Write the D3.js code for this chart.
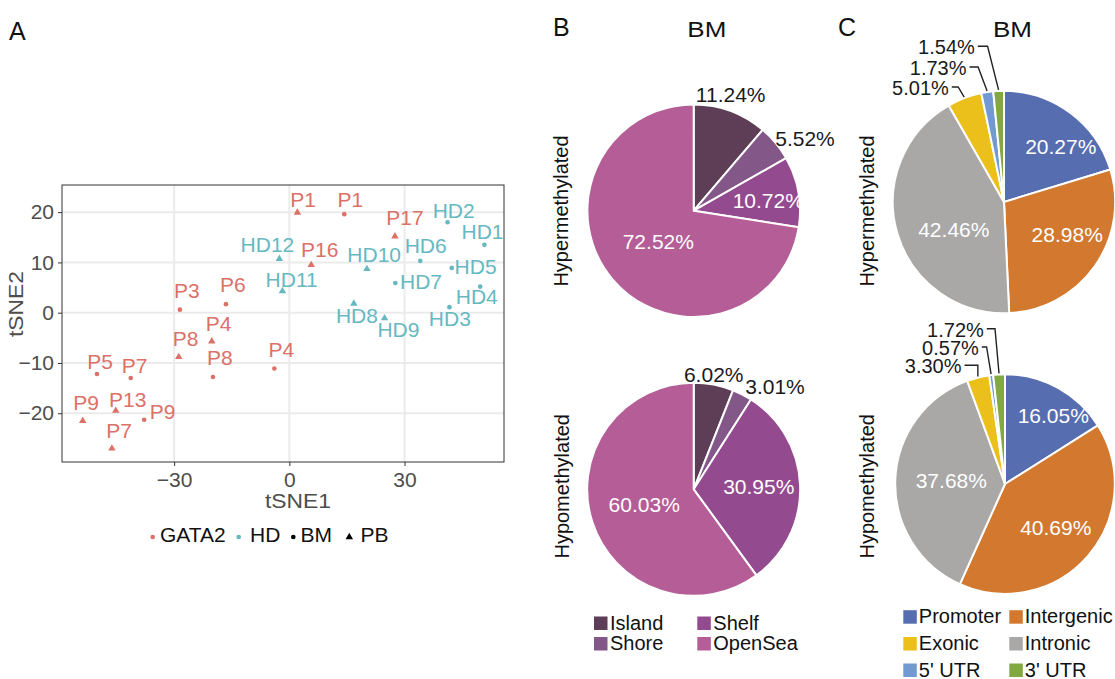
<!DOCTYPE html>
<html>
<head>
<meta charset="utf-8">
<script src="https://cdn.jsdelivr.net/npm/d3@7"></script>
<style>
body { margin: 0; background: #fff; }
text { font-family: "Liberation Sans", Arial, sans-serif; }
</style>
</head>
<body>
<div id="chart"></div>
<script>
// ---- panel A data (tSNE) ----
var sampleNames = ["P1","P1","P17","HD2","HD1","HD6","HD5","HD7","HD4","HD3","HD9","HD8","HD10","P16",
    "HD12","HD11","P4","P3","P6","P4","P8","P8","P5","P7","P9","P13","P9","P7"];
var tsne1 = [2.1,14.3,27.5,41.2,50.8,34.1,42.3,27.6,49.7,41.7,24.8,16.8,20.2,5.7,
    -2.6,-1.8,-3.9,-28.5,-16.5,-20.2,-28.8,-19.9,-50.1,-41.3,-53.8,-45.2,-37.8,-46.2];
var tsne2 = [19.9,19.6,15.2,18.0,13.5,10.3,8.9,5.9,5.2,1.1,-1.1,1.8,8.7,9.5,
    10.7,4.3,-11.1,0.6,1.7,-5.7,-8.8,-12.8,-12.2,-13.0,-21.5,-19.5,-21.3,-27.0];
var groups = ["GATA2","GATA2","GATA2","HD","HD","HD","HD","HD","HD","HD","HD","HD","HD","GATA2",
    "HD","HD","GATA2","GATA2","GATA2","GATA2","GATA2","GATA2","GATA2","GATA2","GATA2","GATA2","GATA2","GATA2"];
var tissues = ["PB","BM","PB","BM","BM","BM","BM","BM","BM","BM","PB","PB","PB","PB",
    "PB","PB","BM","BM","BM","PB","PB","BM","BM","BM","PB","PB","BM","PB"];
// repelled label positions (data units, baseline)
var labelX = [3.6,15.9,30.1,42.8,50.3,35.5,48.5,34.3,48.8,41.8,28.4,17.6,22.1,7.9,
    -5.7,0.6,-2.1,-26.7,-14.7,-18.4,-27.0,-18.1,-49.3,-40.3,-52.9,-42.1,-33.0,-44.3];
var labelY = [21.1,21.1,17.4,18.8,14.7,11.9,7.6,4.7,1.7,-2.6,-4.8,-2.0,10.1,11.1,
    12.1,5.2,-8.9,2.9,4.2,-3.6,-6.6,-10.5,-11.2,-11.9,-19.3,-18.7,-21.1,-25.0];
var xTicks = [-30, 0, 30];
var yTicks = [-20, -10, 0, 10, 20];

// ---- panel B data (CpG context, %) ----
var cpgRegions = ["Island", "Shore", "Shelf", "OpenSea"];
var cpgHyper = [11.24, 5.52, 10.72, 72.52];
var cpgHypo = [6.02, 3.01, 30.95, 60.03];

// ---- panel C data (gene region, %) ----
var geneRegions = ["Promoter", "Intergenic", "Intronic", "Exonic", "5' UTR", "3' UTR"];
var geneHyper = [20.27, 28.98, 42.46, 5.01, 1.73, 1.54];
var geneHypo = [16.05, 40.69, 37.68, 3.30, 0.57, 1.72];

var W = 1115, H = 679;
var svg = d3.select("#chart").append("svg").attr("width", W).attr("height", H);

var groupColor = d3.scaleOrdinal().domain(["GATA2", "HD"]).range(["#dc7168", "#66b8c1"]);
var shape = d3.scaleOrdinal().domain(["BM", "PB"]).range([d3.symbolCircle, d3.symbolTriangle]);
var symSize = { BM: 17, PB: 24 };

// panel letters
[["A", 9, 40], ["B", 553, 36], ["C", 838, 36]].forEach(function(p) {
    svg.append("text").attr("x", p[1]).attr("y", p[2]).attr("font-size", 25).attr("fill", "#111").text(p[0]);
});

// ================= panel A =================
var x = d3.scaleLinear().domain([-59.2, 55.9]).range([62, 504]);
var y = d3.scaleLinear().domain([-29.7, 25.4]).range([462, 185]);

var gA = svg.append("g");
gA.selectAll(".gx").data(xTicks).enter().append("line")
    .attr("x1", x).attr("x2", x).attr("y1", y.range()[1]).attr("y2", y.range()[0])
    .attr("stroke", "#ebebeb").attr("stroke-width", 2);
gA.selectAll(".gy").data(yTicks).enter().append("line")
    .attr("y1", y).attr("y2", y).attr("x1", x.range()[0]).attr("x2", x.range()[1])
    .attr("stroke", "#ebebeb").attr("stroke-width", 2);
gA.append("rect").attr("x", 62).attr("y", 185).attr("width", 442).attr("height", 277)
    .attr("fill", "none").attr("stroke", "#333").attr("stroke-width", 1);

var xAxis = gA.append("g").attr("transform", "translate(0,462)")
    .call(d3.axisBottom(x).tickValues(xTicks).tickSize(4).tickPadding(3).tickFormat(d3.format("")));
var yAxis = gA.append("g").attr("transform", "translate(62,0)")
    .call(d3.axisLeft(y).tickValues(yTicks).tickSize(4).tickPadding(4).tickFormat(d3.format("")));
[xAxis, yAxis].forEach(function(a) {
    a.select(".domain").remove();
    a.selectAll(".tick line").attr("stroke", "#333");
    a.selectAll(".tick text").attr("fill", "#4d4d4d").attr("font-size", 21)
        .style("font-family", "'Liberation Sans', Arial, sans-serif");
});
xAxis.selectAll(".tick text").attr("dy", "0.85em");

gA.append("text").attr("x", 298).attr("y", 508).attr("text-anchor", "middle")
    .attr("font-size", 21).attr("textLength", 66).attr("lengthAdjust", "spacingAndGlyphs")
    .attr("fill", "#4d4d4d").text("tSNE1");
gA.append("text").attr("transform", "translate(23,304) rotate(-90)").attr("text-anchor", "middle")
    .attr("font-size", 21).attr("textLength", 66).attr("lengthAdjust", "spacingAndGlyphs")
    .attr("fill", "#4d4d4d").text("tSNE2");

var pts = sampleNames.map(function(n, i) {
    return { name: n, x: tsne1[i], y: tsne2[i], g: groups[i], t: tissues[i], lx: labelX[i], ly: labelY[i] };
});
gA.selectAll(".pt").data(pts).enter().append("path")
    .attr("transform", function(d) { return "translate(" + x(d.x) + "," + y(d.y) + ")"; })
    .attr("d", function(d) { return d3.symbol().type(shape(d.t)).size(symSize[d.t])(); })
    .attr("fill", function(d) { return groupColor(d.g); });
gA.selectAll(".lab").data(pts).enter().append("text")
    .attr("x", function(d) { return x(d.lx); }).attr("y", function(d) { return y(d.ly); })
    .attr("text-anchor", "middle").attr("font-size", 21)
    .attr("fill", function(d) { return groupColor(d.g); }).text(function(d) { return d.name; });

// legend A
var legA = svg.append("g");
var legItems = [
    { sym: d3.symbolCircle, size: 17, col: groupColor("GATA2"), label: "GATA2", sx: 152.7, tx: 160 },
    { sym: d3.symbolCircle, size: 17, col: groupColor("HD"), label: "HD", sx: 238.7, tx: 250 },
    { sym: d3.symbolCircle, size: 17, col: "#000", label: "BM", sx: 293.3, tx: 300.5 },
    { sym: d3.symbolTriangle, size: 24, col: "#000", label: "PB", sx: 349.3, tx: 360.5 }
];
legItems.forEach(function(d) {
    legA.append("path").attr("transform", "translate(" + d.sx + ",537)")
        .attr("d", d3.symbol().type(d.sym).size(d.size)()).attr("fill", d.col);
    legA.append("text").attr("x", d.tx).attr("y", 541.7).attr("font-size", 21).attr("fill", "#111").text(d.label);
});

// ================= pies =================
var pie = d3.pie().sort(null).value(function(d) { return d; });

function drawPie(cx, cy, r, values, colors, labels) {
    var g = svg.append("g").attr("transform", "translate(" + cx + "," + cy + ")");
    var arcs = pie(values);
    var arc = d3.arc().innerRadius(0).outerRadius(r);
    g.selectAll("path").data(arcs).enter().append("path")
        .attr("d", arc).attr("fill", function(d, i) { return colors[i]; })
        .attr("stroke", "#fff").attr("stroke-width", 2).attr("stroke-linejoin", "round");
    labels.forEach(function(L) {
        var a = arcs[L.i];
        g.append("text").attr("x", L.dx).attr("y", L.dy).attr("font-size", L.fs || 21)
            .attr("fill", L.out ? "#1a1a1a" : "#fff")
            .attr("text-anchor", L.anchor || "middle")
            .text(values[L.i].toFixed(2) + "%");
        if (L.leader !== undefined) {
            var mid = (a.startAngle + a.endAngle) / 2;
            var ax = Math.sin(mid) * (r + 1), ay = -Math.cos(mid) * (r + 1);
            var ly = L.dy - 8;
            g.append("path")
                .attr("d", d3.line()([[L.dx + 3, ly], [ax + L.leader, ly], [ax, ay]]))
                .attr("fill", "none").attr("stroke", "#222").attr("stroke-width", 1.4);
        }
    });
    return g;
}

var cpgColors = ["#5e3d57", "#835889", "#944a8f", "#b45d97"];
var geneColors = ["#566db0", "#d2792f", "#a9a8a7", "#ecc01b", "#7299d2", "#82a841"];

drawPie(693.7, 210.7, 106.3, cpgHyper, cpgColors, [
    { i: 0, dx: 37, dy: -109, out: true },
    { i: 1, dx: 111.3, dy: -64.7, out: true },
    { i: 2, dx: 74.6, dy: -2.4 },
    { i: 3, dx: -35.4, dy: 38.6 }
]);
drawPie(693.7, 489.3, 106.5, cpgHypo, cpgColors, [
    { i: 0, dx: 20, dy: -107.6, out: true },
    { i: 1, dx: 81.3, dy: -95.3, out: true },
    { i: 2, dx: 65.1, dy: 4.7 },
    { i: 3, dx: -49.5, dy: 22.4 }
]);
drawPie(1004, 202, 111.2, geneHyper, geneColors, [
    { i: 0, dx: 56.8, dy: -48 },
    { i: 1, dx: 63.2, dy: 39.7 },
    { i: 2, dx: -50.2, dy: 34.7 },
    { i: 3, dx: -55.2, dy: -107, out: true, fs: 20, anchor: "end", leader: -6 },
    { i: 4, dx: -37.5, dy: -127, out: true, fs: 20, anchor: "end", leader: -9 },
    { i: 5, dx: -29.2, dy: -147.7, out: true, fs: 20, anchor: "end", leader: -11 }
]);
drawPie(1005, 484, 109.8, geneHypo, geneColors, [
    { i: 0, dx: 48.3, dy: -60.7 },
    { i: 1, dx: 50.8, dy: 51 },
    { i: 2, dx: -53.7, dy: 4.3 },
    { i: 3, dx: -43.5, dy: -110.7, out: true, fs: 20, anchor: "end", leader: 0 },
    { i: 4, dx: -26.2, dy: -129, out: true, fs: 20, anchor: "end", leader: -4.5 },
    { i: 5, dx: -21.2, dy: -147.3, out: true, fs: 20, anchor: "end", leader: -4 }
]);

// titles and side labels
[706.8, 1012.5].forEach(function(cx) {
    svg.append("text").attr("x", cx).attr("y", 37.3).attr("text-anchor", "middle")
        .attr("font-size", 22).attr("textLength", 39).attr("lengthAdjust", "spacingAndGlyphs")
        .attr("fill", "#111").text("BM");
});
[[568, 211, "Hypermethylated"], [873.5, 211, "Hypermethylated"],
 [569, 486.3, "Hypomethylated"], [874, 486.3, "Hypomethylated"]].forEach(function(s) {
    svg.append("text").attr("transform", "translate(" + s[0] + "," + s[1] + ") rotate(-90)")
        .attr("text-anchor", "middle").attr("font-size", 20).attr("fill", "#111").text(s[2]);
});

// legends B and C
function drawLegend(names, colors, cols, rows, sq, tdx) {
    var g = svg.append("g");
    names.forEach(function(n, i) {
        var cx = cols[i % 2], ry = rows[Math.floor(i / 2)];
        g.append("rect").attr("x", cx).attr("y", ry).attr("width", sq).attr("height", sq).attr("fill", colors[i]);
        g.append("text").attr("x", cx + tdx).attr("y", ry + 13).attr("font-size", 20).attr("fill", "#111").text(n);
    });
}
// legend order: row-wise pairs
drawLegend(["Island", "Shelf", "Shore", "OpenSea"],
    [cpgColors[0], cpgColors[2], cpgColors[1], cpgColors[3]],
    [594, 697.3], [616.5, 637], 13.5, 16);
drawLegend(["Promoter", "Intergenic", "Exonic", "Intronic", "5' UTR", "3' UTR"],
    [geneColors[0], geneColors[1], geneColors[3], geneColors[2], geneColors[4], geneColors[5]],
    [903.3, 1009.3], [610.2, 637, 663.5], 13.5, 15.5);
</script>
</body>
</html>
